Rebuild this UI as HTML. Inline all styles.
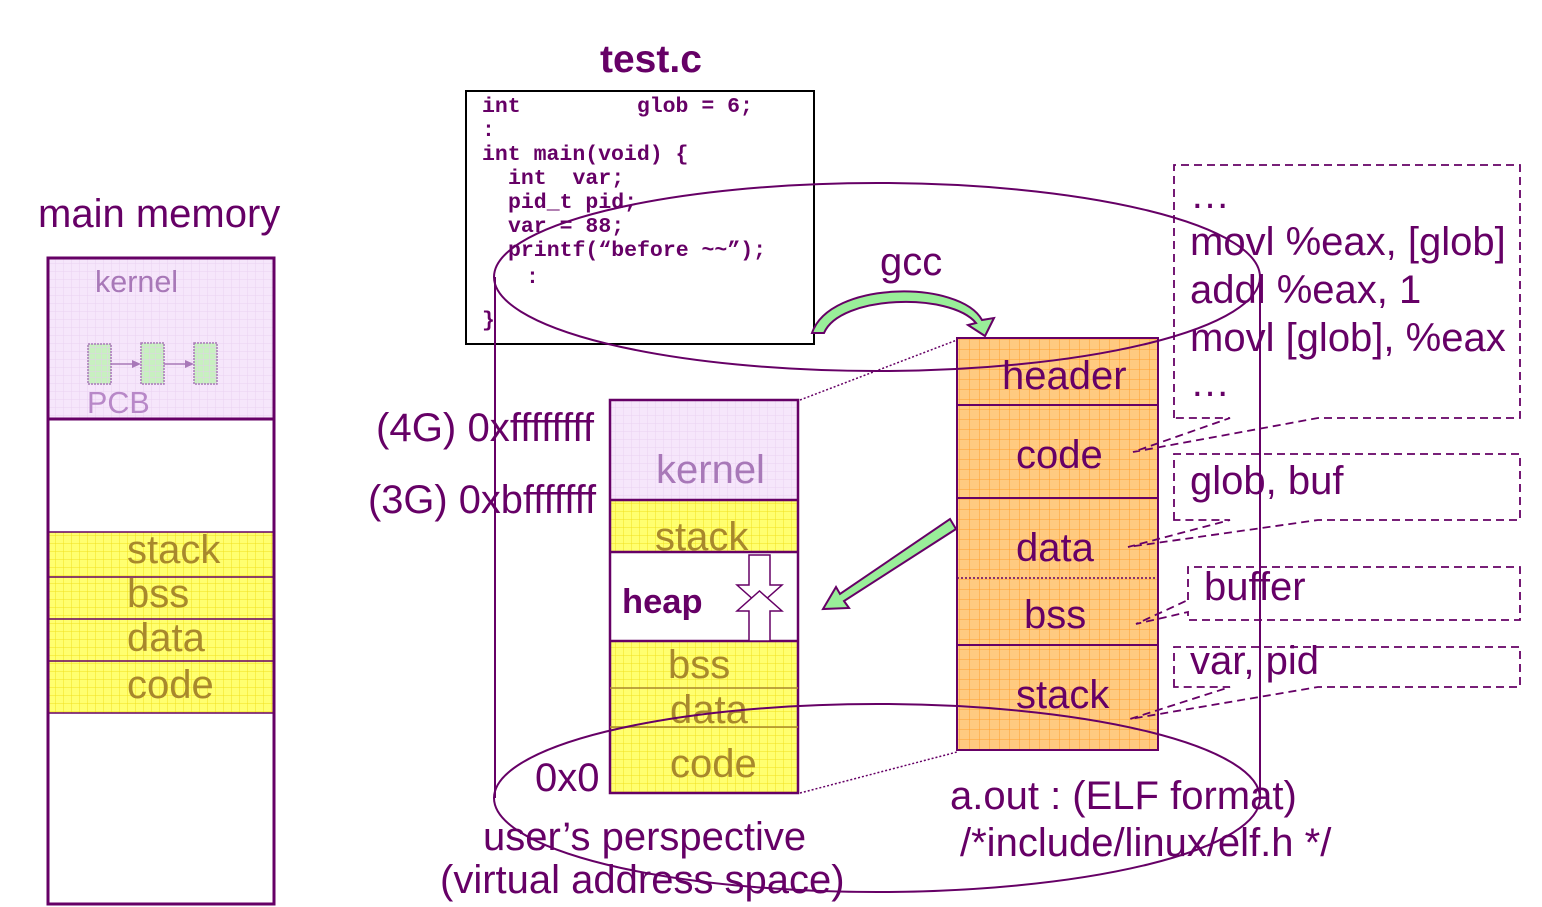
<!DOCTYPE html>
<html><head><meta charset="utf-8">
<style>html,body{margin:0;padding:0;background:#fff;}svg{display:block;}
text{font-family:"Liberation Sans",sans-serif;}
.m{font-family:"Liberation Mono",monospace;font-weight:bold;font-size:21.5px;fill:#660066;}
</style></head><body>
<svg width="1542" height="907" viewBox="0 0 1542 907" xmlns="http://www.w3.org/2000/svg">
<defs>
<pattern id="gy" width="8" height="8" patternUnits="userSpaceOnUse"><rect width="8" height="8" fill="#ffff70"/><path d="M8 0V8M0 8H8" stroke="#f0e020" stroke-width="1"/></pattern>
<pattern id="gk" width="8" height="8" patternUnits="userSpaceOnUse"><rect width="8" height="8" fill="#f6e6fb"/><path d="M8 0V8M0 8H8" stroke="#ead2f2" stroke-width="1"/></pattern>
<pattern id="go" width="10" height="10" patternUnits="userSpaceOnUse"><rect width="10" height="10" fill="#ffca80"/><path d="M10 0V10M0 10H10" stroke="#ffa030" stroke-width="1"/></pattern>
<pattern id="gg" width="6" height="6" patternUnits="userSpaceOnUse"><rect width="6" height="6" fill="#c8f0c0"/><path d="M6 0V6M0 6H6" stroke="#e0d0e8" stroke-width="1"/></pattern>
</defs>
<g fill="#660066">
<text x="600" y="72" font-size="39" font-weight="bold">test.c</text>
<text x="38" y="227" font-size="40">main memory</text>
<text x="880" y="275" font-size="40">gcc</text>
</g>

<!-- main memory -->
<rect x="48" y="258" width="226" height="161" fill="url(#gk)"/>
<rect x="48" y="532" width="226" height="181" fill="url(#gy)"/>
<rect x="48" y="258" width="226" height="646" fill="none" stroke="#660066" stroke-width="3"/>
<line x1="48" y1="419" x2="274" y2="419" stroke="#660066" stroke-width="3"/>
<g stroke="#660066" stroke-width="1.5"><line x1="48" y1="532" x2="274" y2="532"/><line x1="48" y1="577" x2="274" y2="577"/><line x1="48" y1="619" x2="274" y2="619"/><line x1="48" y1="661" x2="274" y2="661"/><line x1="48" y1="713" x2="274" y2="713"/></g>
<text x="95" y="292" font-size="30.5" fill="#a878b8">kernel</text>
<g stroke="#a878b8" stroke-dasharray="2 1" stroke-width="1.5" fill="url(#gg)">
<rect x="88" y="344" width="23" height="40"/><rect x="141" y="343" width="23" height="41"/><rect x="194" y="343" width="23" height="41"/></g>
<g stroke="#a878b8" stroke-width="1.5"><line x1="111" y1="364" x2="135" y2="364"/><line x1="164" y1="364" x2="188" y2="364"/></g>
<path d="M132 360l9 4-9 4z M185 360l9 4-9 4z" fill="#a878b8"/>
<text x="87" y="413" font-size="30.5" fill="#b888c8">PCB</text>
<g font-size="40" fill="#a8882c">
<text x="127" y="563">stack</text><text x="127" y="607">bss</text><text x="127" y="651">data</text><text x="127" y="698">code</text></g>

<!-- code box -->
<rect x="466" y="91" width="348" height="253" fill="#fff" stroke="#000" stroke-width="2"/>
<text class="m" x="482" y="112" xml:space="preserve">int         glob = 6;</text>
<text class="m" x="482" y="136">:</text>
<text class="m" x="482" y="160">int main(void) {</text>
<text class="m" x="508" y="184" xml:space="preserve">int  var;</text>
<text class="m" x="508" y="208">pid_t pid;</text>
<text class="m" x="508" y="232">var = 88;</text>
<text class="m" x="508" y="256">printf(“before ~~”);</text>
<text class="m" x="526" y="283">:</text>
<text class="m" x="482" y="326">}</text>

<!-- virtual memory -->
<rect x="610" y="400" width="188" height="100" fill="url(#gk)"/>
<rect x="610" y="500" width="188" height="52" fill="url(#gy)"/>
<rect x="610" y="641" width="188" height="152" fill="url(#gy)"/>
<rect x="610" y="400" width="188" height="393" fill="none" stroke="#660066" stroke-width="2.5"/>
<g stroke="#660066" stroke-width="2.5"><line x1="610" y1="500" x2="798" y2="500"/><line x1="610" y1="552" x2="798" y2="552"/><line x1="610" y1="641" x2="798" y2="641"/></g>
<g stroke="#a8882c" stroke-width="1.5"><line x1="610" y1="688" x2="798" y2="688"/><line x1="610" y1="727" x2="798" y2="727"/></g>
<text x="656" y="483" font-size="40" fill="#a878b8">kernel</text>
<g font-size="40" fill="#a8882c"><text x="655" y="550">stack</text><text x="668" y="678">bss</text><text x="670" y="723">data</text><text x="670" y="777">code</text></g>
<text x="622" y="613" font-size="34.5" font-weight="bold" fill="#660066">heap</text>
<path d="M749 555h21v30h12l-22.5 20-22.5-20h12z" fill="#fff" stroke="#660066" stroke-width="1.5"/>
<path d="M749 641v-30h-12l22.5-20 22.5 20h-12v30z" fill="#fff" stroke="#660066" stroke-width="1.5"/>
<g fill="#660066" font-size="40">
<text x="376" y="441" textLength="218" lengthAdjust="spacingAndGlyphs">(4G) 0xffffffff</text>
<text x="368" y="513" textLength="228" lengthAdjust="spacingAndGlyphs">(3G) 0xbfffffff</text>
<text x="535" y="791">0x0</text>
<text x="483" y="850">user’s perspective</text>
<text x="440" y="893">(virtual address space)</text>
<text x="950" y="809">a.out : (ELF format)</text>
<text x="960" y="856">/*include/linux/elf.h */</text>
</g>

<!-- a.out -->
<rect x="957" y="338" width="201" height="412" fill="url(#go)" stroke="#660066" stroke-width="2"/>
<g stroke="#660066" stroke-width="2"><line x1="957" y1="405" x2="1158" y2="405"/><line x1="957" y1="498" x2="1158" y2="498"/><line x1="957" y1="645" x2="1158" y2="645"/></g>
<line x1="957" y1="578" x2="1158" y2="578" stroke="#660066" stroke-width="1.5" stroke-dasharray="2 2"/>
<g font-size="40" fill="#660066"><text x="1002" y="389">header</text><text x="1016" y="468">code</text><text x="1016" y="561">data</text><text x="1024" y="628">bss</text><text x="1016" y="708">stack</text></g>

<!-- dotted connectors -->
<g stroke="#660066" stroke-width="1.5" stroke-dasharray="2 2"><line x1="800" y1="400" x2="957" y2="340"/><line x1="800" y1="793" x2="957" y2="752"/></g>

<!-- green arrows -->
<path d="M812 333 C 830 280, 960 280, 982 320 L 994 318 L 985 336 L 968 325 L 976 323 C 950 292, 840 295, 824 333 Z" fill="#99ee99" stroke="#660066" stroke-width="2"/>
<path d="M950 519 L956 529 L844 601 L849 608 L823 609 L836 587 L840 594 Z" fill="#99ee99" stroke="#660066" stroke-width="2"/>

<!-- cylinder -->
<g fill="none" stroke="#660066" stroke-width="2">
<ellipse cx="877" cy="277" rx="383" ry="94"/>
<ellipse cx="877" cy="798" rx="383" ry="94"/>
<line x1="495" y1="277" x2="495" y2="798"/>
<line x1="1260" y1="277" x2="1260" y2="798"/>
</g>

<!-- callouts -->
<g fill="none" stroke="#660066" stroke-width="1.8" stroke-dasharray="8 5">
<path d="M1174 418 V165 H1520 V418 H1318 L1133 452 L1230 418 Z"/>
<path d="M1174 520 V454 H1520 V520 H1318 L1128 547 L1230 520 Z"/>
<path d="M1188 600 V567 H1520 V620 H1188 V612 L1136 624 Z"/>
<path d="M1174 687 V647 H1520 V687 H1318 L1130 719 L1230 687 Z"/>
</g>
<g fill="#660066" font-size="40">
<text x="1190" y="208">…</text>
<text x="1190" y="255">movl %eax, [glob]</text>
<text x="1190" y="303">addl %eax, 1</text>
<text x="1190" y="351">movl [glob], %eax</text>
<text x="1190" y="396">…</text>
<text x="1190" y="494">glob, buf</text>
<text x="1204" y="600">buffer</text>
<text x="1190" y="674">var, pid</text>
</g>
</svg>
</body></html>
